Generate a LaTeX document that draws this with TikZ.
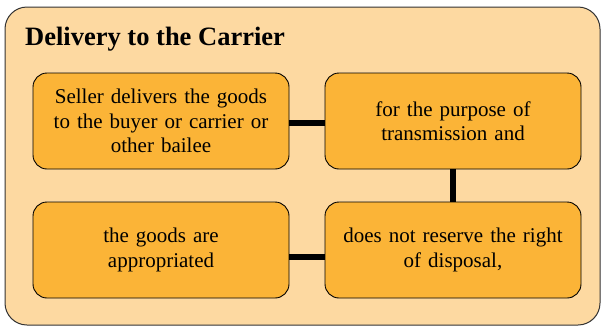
\documentclass[tikz,border=0pt]{standalone}
\usepackage{fontspec}
\setmainfont{Liberation Serif}
\definecolor{outerfill}{HTML}{FDD9A1}
\definecolor{boxfill}{HTML}{FBB437}
\definecolor{edgecol}{HTML}{333333}
\begin{document}
\begin{tikzpicture}[x=1pt,y=-1pt,
  stepbox/.style={draw=black, line width=0.9pt, fill=boxfill, rounded corners=14pt,
    minimum width=256pt, minimum height=96pt, align=center, text width=250pt,
    font=\fontsize{21}{24.5}\selectfont, inner sep=0pt},
  link/.style={line width=6pt, black}]
\useasboundingbox (0,0) rectangle (605,327);
\node[draw=edgecol, line width=1pt, fill=outerfill, rounded corners=22pt,
  minimum width=595pt, minimum height=318pt, inner sep=0pt] (outer) at (302.5,166) {};
\node[anchor=base west, font=\fontsize{26.5}{30}\bfseries\selectfont, inner sep=0pt] (title) at (25,45) {Delivery to the Carrier};
\node[stepbox] (a) at (161,121) {Seller delivers the goods\\to the buyer or carrier or\\other bailee};
\node[stepbox] (b) at (453,121) {for the purpose of\\transmission and};
\node[stepbox] (c) at (453,250) {does not reserve the right\\of disposal,};
\node[stepbox] (d) at (161,250) {the goods are\\appropriated};
\draw[link] ([yshift=-2pt]a.east) -- ([yshift=-2pt]b.west);
\draw[link] (b.south) -- (c.north);
\draw[link] ([yshift=-7pt]d.east) -- ([yshift=-7pt]c.west);
\end{tikzpicture}
\end{document}
